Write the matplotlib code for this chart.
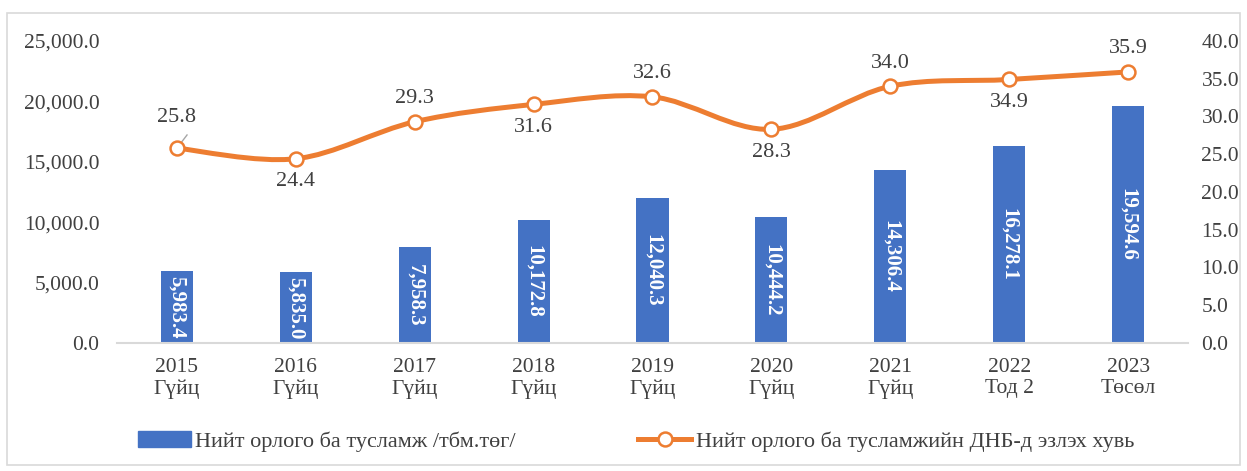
import matplotlib.pyplot as plt
from matplotlib.path import Path
from matplotlib.patches import PathPatch, Rectangle
from matplotlib.lines import Line2D
import numpy as np

plt.rcParams['font.family'] = ['Liberation Serif', 'DejaVu Serif']

years = ['2015', '2016', '2017', '2018', '2019', '2020', '2021', '2022', '2023']
status = ['Гүйц', 'Гүйц', 'Гүйц', 'Гүйц', 'Гүйц', 'Гүйц', 'Гүйц', 'Тод 2', 'Төсөл']
revenue = [5983.4, 5835.0, 7958.3, 10172.8, 12040.3, 10444.2, 14306.4, 16278.1, 19594.6]
share = [25.8, 24.4, 29.3, 31.6, 32.6, 28.3, 34.0, 34.9, 35.9]
label_above = [True, False, True, False, True, False, True, False, True]

bar_name = 'Нийт орлого ба тусламж /тбм.төг/'
line_name = 'Нийт орлого ба тусламжийн ДНБ-д эзлэх хувь'

blue = '#4472C4'
orange = '#ED7D31'
txt = '#404040'

fig = plt.figure(figsize=(12.47, 4.71), dpi=100)
fig.patches.append(Rectangle((0.006, 0.012), 0.988, 0.96, transform=fig.transFigure,
                             fill=False, edgecolor='#D9D9D9', linewidth=1.2))
ax = fig.add_axes([0.0942, 0.2718, 0.8581, 0.6412])
ax2 = ax.twinx()

x = np.arange(len(years))
ax.bar(x, revenue, width=0.27, color=blue, zorder=2)
for xi, v in zip(x, revenue):
    ax.text(xi, v / 2, f'{v:,.1f}', rotation=270, ha='center', va='center',
            color='white', fontsize=15, fontweight='bold', zorder=3)

ax.set_xlim(-0.5, len(years) - 0.5)
ax.set_ylim(0, 25000)
ax.set_yticks(np.arange(0, 25001, 5000))
ax.set_yticklabels([f'{v:,.1f}' for v in np.arange(0, 25001, 5000)])
ax.set_xticks(x)
ax.set_xticklabels([f'{y}\n{s}' for y, s in zip(years, status)], linespacing=1.15)
ax.tick_params(axis='y', length=0, labelsize=15.5, labelcolor=txt, pad=13)
ax.tick_params(axis='x', length=0, labelsize=15.5, labelcolor=txt, pad=11)
for s in ['top', 'right', 'left']:
    ax.spines[s].set_visible(False)
ax.spines['bottom'].set_color('#D9D9D9')
ax.spines['bottom'].set_linewidth(1.5)

# smoothed line (Excel-like bezier through the points)
pts = list(zip(x, share))
verts = [pts[0]]
codes = [Path.MOVETO]
n = len(pts)
for i in range(n - 1):
    p0 = np.array(pts[max(i - 1, 0)])
    p1 = np.array(pts[i])
    p2 = np.array(pts[i + 1])
    p3 = np.array(pts[min(i + 2, n - 1)])
    c1 = p1 + (p2 - p0) / 6
    c2 = p2 - (p3 - p1) / 6
    verts += [tuple(c1), tuple(c2), tuple(p2)]
    codes += [Path.CURVE4] * 3
ax2.add_patch(PathPatch(Path(verts, codes), fill=False, edgecolor=orange,
                        linewidth=3.6, capstyle='round', zorder=3))
ax2.plot(x, share, linestyle='none', marker='o', markersize=10,
         markerfacecolor='white', markeredgecolor=orange, markeredgewidth=1.8, zorder=4)
for i, (xi, v, up) in enumerate(zip(x, share, label_above)):
    off = 23 if up else -23
    if i == 0:
        off = 31
    ax2.annotate(f'{v:.1f}', (xi, v), xytext=(0, off), textcoords='offset pixels',
                 ha='center', va='center', fontsize=16, color=txt)
# leader line for the first label
ax2.plot([x[0], x[0] + 0.085], [share[0], share[0] + 1.75], color='#A6A6A6', lw=1, zorder=3.5)

ax2.set_ylim(0, 40)
ax2.set_yticks(np.arange(0, 40.1, 5))
ax2.set_yticklabels([f'{v:.1f}' for v in np.arange(0, 40.1, 5)])
ax2.tick_params(axis='y', length=0, labelsize=15.5, labelcolor=txt, pad=10)
for s in ['top', 'right', 'left', 'bottom']:
    ax2.spines[s].set_visible(False)

handles = [Rectangle((0, 0), 1, 1, color=blue),
           Line2D([], [], color=orange, linewidth=3.6, marker='o', markersize=10,
                  markerfacecolor='white', markeredgecolor=orange, markeredgewidth=1.8)]
fig.legend(handles, [bar_name, line_name], loc='center', bbox_to_anchor=(0.51, 0.063),
           ncol=2, frameon=False, fontsize=16, labelcolor=txt, handlelength=2.4,
           handletextpad=0.2, columnspacing=5.5)

fig.savefig('out.png', dpi=100)
